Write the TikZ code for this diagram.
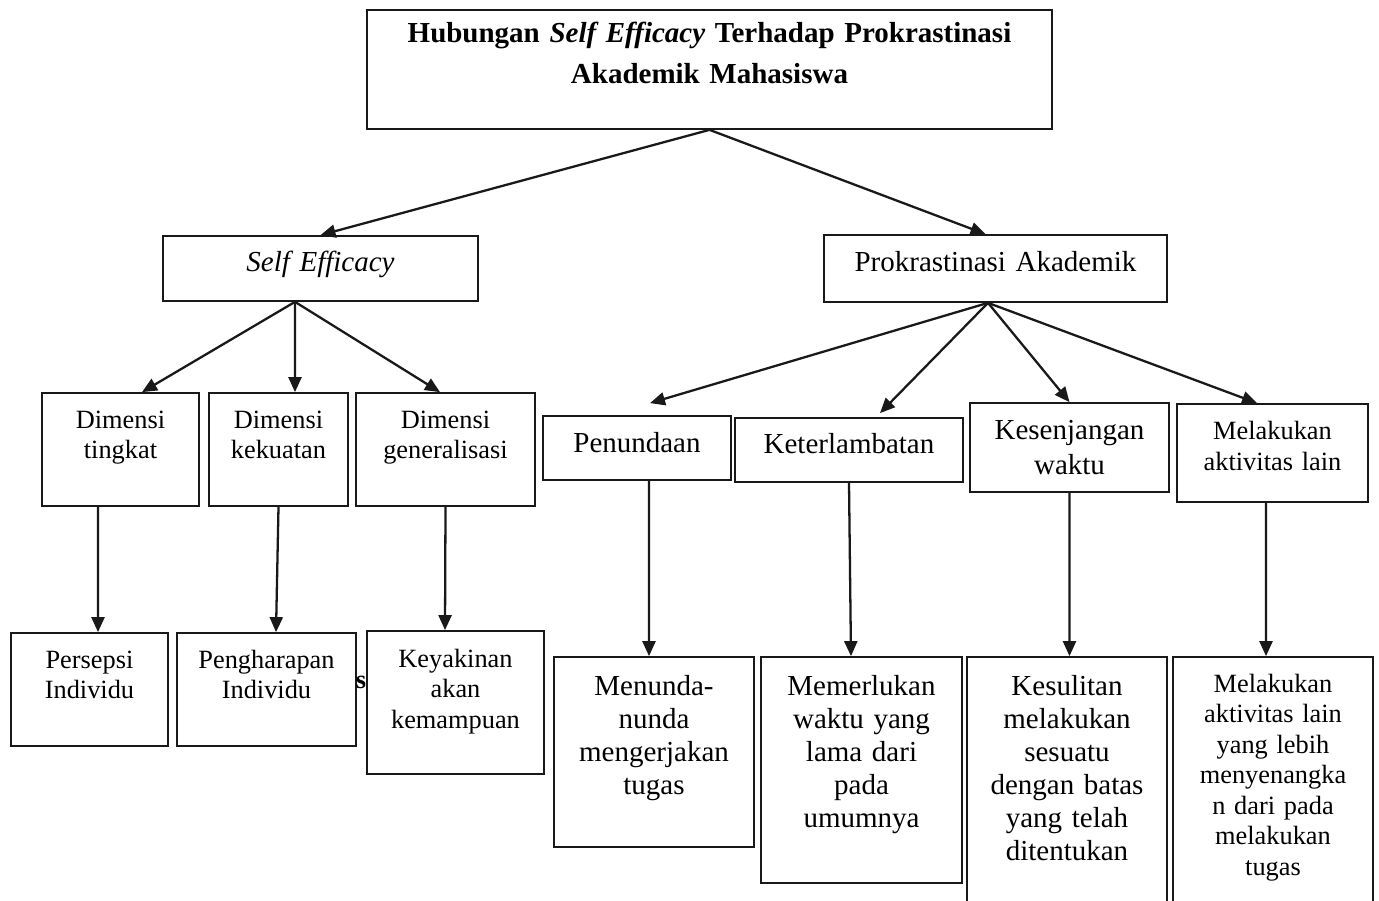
\documentclass[tikz,border=0pt]{standalone}
\usepackage{fontspec}
\setmainfont{Liberation Serif}
\usetikzlibrary{arrows.meta}
\tikzset{
  box/.style={draw=black!90, line width=1pt, inner sep=0pt, align=center, font=\fontsize{16.5}{18.8}\selectfont},
  smallbox/.style={box, font=\fontsize{15}{17.4}\selectfont},
  arr/.style={draw=black!90, line width=1.3pt, -{Triangle[length=0.3cm,width=0.26cm]}}
}
\begin{document}
\begin{tikzpicture}[x=0.02cm,y=-0.02cm]
\clip (0,0) rectangle (1379,901);
\fill[white] (0,0) rectangle (1379,901);

\node[box, text width=13.7cm, text height=0.66cm, text depth=1.72cm, font=\bfseries\fontsize{16.5}{22.8}\selectfont] (judul) at (709.5,69.5) {Hubungan \textit{Self Efficacy} Terhadap Prokrastinasi\\Akademik Mahasiswa};

\node[box, text width=6.3cm, text height=0.72cm, text depth=0.58cm, font=\itshape\fontsize{16.5}{18.8}\selectfont] (se) at (320.5,268.5) {Self Efficacy};
\node[box, text width=6.86cm, text height=0.74cm, text depth=0.6cm] (prok) at (995.5,268.5) {Prokrastinasi Akademik};

\node[smallbox, text width=3.14cm, text height=0.7cm, text depth=1.56cm] (tingkat) at (120.5,449.5) {Dimensi\\tingkat};
\node[smallbox, text width=2.78cm, text height=0.7cm, text depth=1.56cm] (kekuatan) at (278.5,449.5) {Dimensi\\kekuatan};
\node[smallbox, text width=3.58cm, text height=0.7cm, text depth=1.56cm] (general) at (445.5,449.5) {Dimensi\\generalisasi};

\node[smallbox, text width=3.14cm, text height=0.7cm, text depth=1.56cm] (persepsi) at (89.5,689.5) {Persepsi\\Individu};
\node[smallbox, text width=3.58cm, text height=0.7cm, text depth=1.56cm] (harap) at (266.5,689.5) {Pengharapan\\Individu};
\node[smallbox, text width=3.54cm, text height=0.72cm, text depth=2.14cm] (yakin) at (455.5,702.5) {Keyakinan\\akan\\kemampuan};
\node[inner sep=0pt, font=\bfseries\fontsize{15}{17}\selectfont] (s) at (361,682) {s};

\node[box, text width=3.76cm, text height=0.74cm, text depth=0.54cm] (tunda) at (637,448) {Penundaan};
\node[box, text width=4.56cm, text height=0.72cm, text depth=0.56cm] (lambat) at (849,450) {Keterlambatan};
\node[box, text width=3.98cm, text height=0.74cm, text depth=1.04cm, font=\fontsize{16.5}{19.9}\selectfont] (senjang) at (1069.5,447.5) {Kesenjangan\\waktu};
\node[smallbox, text width=3.82cm, text height=0.72cm, text depth=1.24cm, font=\fontsize{15}{17.1}\selectfont] (aktiv) at (1272.5,453) {Melakukan\\aktivitas lain};

\node[box, text width=4cm, text height=0.76cm, text depth=3.04cm] (menunda) at (654,752) {Menunda-\\nunda\\mengerjakan\\tugas};
\node[box, text width=4.02cm, text height=0.76cm, text depth=3.76cm] (perlu) at (861.5,770) {Memerlukan\\waktu yang\\lama dari\\pada\\umumnya};
\node[box, text width=4cm, text height=0.76cm, text depth=4.3cm] (sulit) at (1067,783.5) {Kesulitan\\melakukan\\sesuatu\\dengan batas\\yang telah\\ditentukan};
\node[smallbox, text width=4cm, text height=0.7cm, text depth=4.36cm] (lain) at (1273,783.5) {Melakukan\\aktivitas lain\\yang lebih\\menyenangka\\n dari pada\\melakukan\\tugas};

\draw[arr] (judul.south) -- (se.north);
\draw[arr] (judul.south) -- ([xshift=-0.2cm]prok.north);

\draw[arr] ([xshift=-0.51cm]se.south) -- ([xshift=0.43cm]tingkat.north);
\draw[arr] ([xshift=-0.51cm]se.south) -- ([xshift=0.33cm]kekuatan.north);
\draw[arr] ([xshift=-0.51cm]se.south) -- ([xshift=-0.11cm]general.north);
\draw[arr] ([xshift=-0.45cm]tingkat.south) -- ([xshift=0.17cm]persepsi.north);
\draw[arr] (kekuatan.south) -- ([xshift=0.19cm]harap.north);
\draw[arr] (general.south) -- ([xshift=-0.21cm]yakin.north);

\draw[arr] ([xshift=-0.15cm]prok.south) -- ([xshift=0.26cm,yshift=0.24cm]tunda.north);
\draw[arr] ([xshift=-0.15cm]prok.south) -- ([xshift=0.62cm,yshift=0.08cm]lambat.north);
\draw[arr] ([xshift=-0.15cm]prok.south) -- (senjang.north);
\draw[arr] ([xshift=-0.15cm]prok.south) -- ([xshift=-0.31cm]aktiv.north);
\draw[arr] ([xshift=0.24cm]tunda.south) -- ([xshift=-0.1cm]menunda.north);
\draw[arr] (lambat.south) -- ([xshift=-0.21cm]perlu.north);
\draw[arr] (senjang.south) -- ([xshift=0.05cm]sulit.north);
\draw[arr] ([xshift=-0.13cm]aktiv.south) -- ([xshift=-0.14cm]lain.north);
\end{tikzpicture}
\end{document}
